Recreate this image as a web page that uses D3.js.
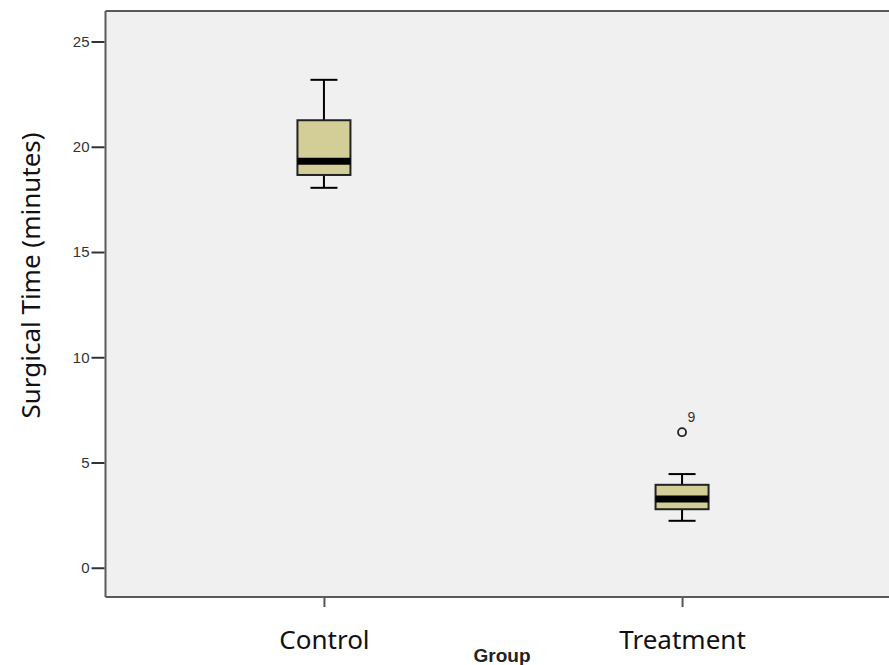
<!DOCTYPE html>
<html>
<head>
<meta charset="utf-8">
<script src="https://cdn.jsdelivr.net/npm/d3@7"></script>
<style>
  html, body { margin: 0; padding: 0; background: #ffffff; }
  svg { display: block; }
</style>
</head>
<body>
<svg id="chart" width="889" height="665"></svg>
<script>
// Groups and five-number summaries of surgical time (minutes)
const groups = ["Control", "Treatment"];
const whiskerLow = [18.05, 2.23];
const quartile1 = [18.66, 2.78];
const medians = [19.31, 3.26];
const quartile3 = [21.26, 3.94];
const whiskerHigh = [23.18, 4.45];
// Outliers: group, value, case label
const outlierGroups = ["Treatment"];
const outlierValues = [6.44];
const outlierLabels = ["9"];
const yTicks = [0, 5, 10, 15, 20, 25];

const svg = d3.select("#chart");
const plot = { left: 105.5, top: 11, right: 900.5, bottom: 597 };

const x = d3.scalePoint().domain(groups).range([plot.left, plot.right]).padding(0.61);
const y = d3.scaleLinear().domain([-1.39, 26.45]).range([plot.bottom, plot.top]);

// plot background
svg.append("rect")
  .attr("x", plot.left).attr("y", plot.top)
  .attr("width", plot.right - plot.left).attr("height", plot.bottom - plot.top)
  .attr("fill", "#f0f0f0");

// frame lines (top, left, bottom)
const frame = svg.append("g").attr("stroke", "#5a5a5a").attr("stroke-width", 2).attr("fill", "none");
frame.append("line").attr("x1", plot.left).attr("x2", plot.right).attr("y1", plot.top).attr("y2", plot.top);
frame.append("line").attr("x1", plot.left).attr("x2", plot.left).attr("y1", plot.top).attr("y2", plot.bottom);
frame.append("line").attr("x1", plot.left).attr("x2", plot.right).attr("y1", plot.bottom).attr("y2", plot.bottom);

// y axis
const yAxis = svg.append("g")
  .attr("transform", `translate(${plot.left - 1},0)`)
  .call(d3.axisLeft(y).tickValues(yTicks).tickSize(13).tickPadding(2));
yAxis.select(".domain").remove();
yAxis.selectAll(".tick line").attr("stroke", "#333").attr("stroke-width", 2);
yAxis.selectAll(".tick text")
  .attr("fill", "#333").style("font-family", "Arial, 'Liberation Sans', sans-serif").style("font-size", "15px");

// x axis
const xAxis = svg.append("g")
  .attr("transform", `translate(0,${plot.bottom + 1})`)
  .call(d3.axisBottom(x).tickSize(9));
xAxis.select(".domain").remove();
xAxis.selectAll(".tick line").attr("stroke", "#555").attr("stroke-width", 2);
xAxis.selectAll(".tick text")
  .attr("y", 50.5).attr("dy", 0)
  .attr("fill", "#111").style("font-family", "'Noto Sans', 'Open Sans', sans-serif").style("font-size", "26px");

// axis titles
svg.append("text")
  .attr("x", 502).attr("y", 662)
  .attr("text-anchor", "middle")
  .style("font-family", "Arial, 'Liberation Sans', sans-serif")
  .style("font-size", "19px").style("font-weight", "bold").attr("fill", "#222")
  .text("Group");

svg.append("text")
  .attr("transform", "translate(40,275.5) rotate(-90)")
  .attr("text-anchor", "middle")
  .style("font-family", "'Noto Sans', 'Open Sans', sans-serif")
  .style("font-size", "26px").attr("fill", "#111")
  .text("Surgical Time (minutes)");

// box plots
const boxW = 53, capW = 27;
const boxes = svg.append("g").selectAll("g").data(groups).join("g")
  .attr("transform", d => `translate(${x(d)},0)`);

// whiskers
boxes.append("line")
  .attr("x1", 0).attr("x2", 0)
  .attr("y1", (d, i) => y(whiskerHigh[i])).attr("y2", (d, i) => y(quartile3[i]))
  .attr("stroke", "#000").attr("stroke-width", 2);
boxes.append("line")
  .attr("x1", 0).attr("x2", 0)
  .attr("y1", (d, i) => y(quartile1[i])).attr("y2", (d, i) => y(whiskerLow[i]))
  .attr("stroke", "#000").attr("stroke-width", 2);
boxes.append("line")
  .attr("x1", -capW / 2).attr("x2", capW / 2)
  .attr("y1", (d, i) => y(whiskerHigh[i])).attr("y2", (d, i) => y(whiskerHigh[i]))
  .attr("stroke", "#000").attr("stroke-width", 2);
boxes.append("line")
  .attr("x1", -capW / 2).attr("x2", capW / 2)
  .attr("y1", (d, i) => y(whiskerLow[i])).attr("y2", (d, i) => y(whiskerLow[i]))
  .attr("stroke", "#000").attr("stroke-width", 2);

// box
boxes.append("rect")
  .attr("x", -boxW / 2).attr("width", boxW)
  .attr("y", (d, i) => y(quartile3[i]))
  .attr("height", (d, i) => y(quartile1[i]) - y(quartile3[i]))
  .attr("fill", "#d3ce97").attr("stroke", "#222").attr("stroke-width", 2);

// median
boxes.append("line")
  .attr("x1", -boxW / 2).attr("x2", boxW / 2)
  .attr("y1", (d, i) => y(medians[i])).attr("y2", (d, i) => y(medians[i]))
  .attr("stroke", "#000").attr("stroke-width", 7);

// outliers
const out = svg.append("g").selectAll("g").data(outlierValues).join("g");
out.append("circle")
  .attr("cx", (d, i) => x(outlierGroups[i]))
  .attr("cy", d => y(d))
  .attr("r", 4)
  .attr("fill", "none").attr("stroke", "#222").attr("stroke-width", 1.8);
out.append("text")
  .attr("x", (d, i) => x(outlierGroups[i]) + 5.5)
  .attr("y", d => y(d) - 10.5)
  .style("font-family", "Arial, 'Liberation Sans', sans-serif")
  .style("font-size", "14px").attr("fill", "#333")
  .text((d, i) => outlierLabels[i]);
</script>
</body>
</html>
